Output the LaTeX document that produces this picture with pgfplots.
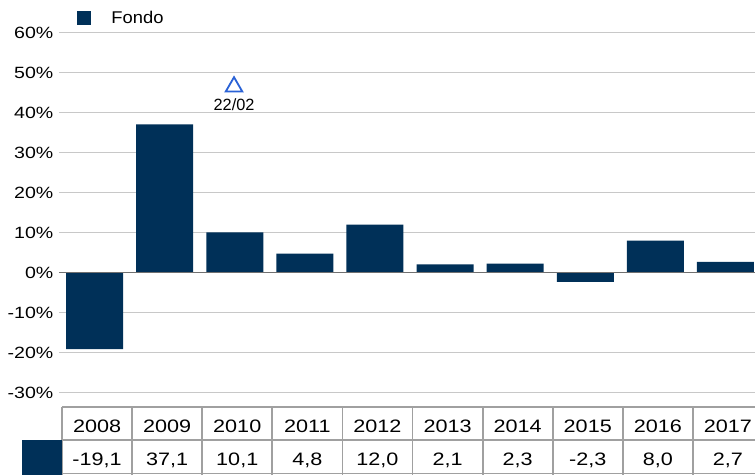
\documentclass[border=0pt]{standalone}
\usepackage{fontspec}
\setmainfont{Liberation Sans}
\newfontfamily\stretchfont[FakeStretch=1.2]{Liberation Sans}
\newfontfamily\legfont[FakeStretch=1.08]{Liberation Sans}
\usepackage{pgfplots}
\pgfplotsset{compat=1.18}
\usepackage{pgfplotstable}
\definecolor{navy}{HTML}{003058}
\definecolor{gridgray}{HTML}{C8C8C8}
\definecolor{zerogray}{HTML}{707070}
\definecolor{tablegray}{HTML}{A0A0A0}
\definecolor{triblue}{HTML}{2A62D6}

\pgfplotstableread{
x year val
0 2008 -19.1
1 2009 37.1
2 2010 10.1
3 2011 4.8
4 2012 12.0
5 2013 2.1
6 2014 2.3
7 2015 -2.3
8 2016 8.0
9 2017 2.7
}\fondo

\begin{document}
\begin{tikzpicture}
\path[use as bounding box, clip] (0,0) rectangle (755pt,474pt);
\begin{axis}[
 at={(62pt,81.3pt)}, anchor=south west, scale only axis,
 width=701pt, height=360pt,
 xmin=-0.5, xmax=9.5, ymin=-30, ymax=60,
 clip=false,
 axis line style={draw=none},
 xtick=\empty,
 ytick={-30,-20,-10,0,10,20,30,40,50,60},
 ymajorgrids, grid style={gridgray, line width=1.2pt},
 major tick length=3pt, tick align=outside,
 ytick style={gridgray, line width=1.2pt},
 yticklabel={\pgfmathprintnumber{\tick}\%},
 /pgf/number format/assume math mode=true,
 yticklabel style={font=\stretchfont\fontsize{16.3}{18}\selectfont, inner sep=0pt, xshift=-5.5pt, text=black},
 legend style={draw=none, fill=none, at={(axis description cs:0.021,1.041)}, anchor=west, inner sep=0pt, font=\legfont\fontsize{17}{19}\selectfont},
 legend image code/.code={\fill[navy] (0pt,-7.25pt) rectangle (14.5pt,7.25pt); \path[draw=none, fill=none] (14.5pt,0pt) -- (32.5pt,0pt);},
]
\addplot[ybar, bar width=57pt, bar shift=-2.5pt, fill=navy, draw=none] table[x=x, y=val]{\fondo};
\addlegendentry{Fondo}

\draw[zerogray, line width=1.5pt] ([xshift=-3pt]axis cs:-0.5,0) -- (axis cs:9.5,0);

\addplot[only marks, mark=triangle, mark size=9.5pt, triblue, line width=1.8pt,
  nodes near coords={22/02},
  every node near coord/.append style={anchor=base, yshift=-23.3pt, text=black, font=\fontsize{16.3}{18}\selectfont}]
  coordinates {(1.954,46.5)};

% data table below the chart
\pgfplotsinvokeforeach{-0.5,0.5,1.5,2.5,3.5,4.5,5.5,6.5,7.5,8.5,9.5}{
  \draw[tablegray, line width=1.8pt] (axis cs:#1,-33.6) -- (axis cs:#1,-50.6);
}
\draw[tablegray, line width=1.8pt] (axis cs:-0.5,-33.6) -- (axis cs:9.5,-33.6);
\draw[tablegray, line width=1.8pt] (axis cs:-0.5,-41.8) -- (axis cs:9.5,-41.8);
\draw[tablegray, line width=1.8pt] (axis cs:-0.5,-50.2) -- (axis cs:9.5,-50.2);
\fill[navy] (axis cs:-1.07,-41.8) rectangle (axis cs:-0.5,-50.6);

\addplot[draw=none, mark=none, point meta=explicit symbolic,
  nodes near coords={\pgfplotspointmeta},
  every node near coord/.append style={anchor=base, text=black, inner sep=0pt, font=\stretchfont\fontsize{18}{20}\selectfont}]
  table[x=x, y expr=-39.9, meta=year]{\fondo};

\addplot[draw=none, mark=none, point meta=explicit,
  nodes near coords={\pgfmathprintnumber[fixed, fixed zerofill, precision=1, use comma]{\pgfplotspointmeta}},
  every node near coord/.append style={anchor=base, text=black, inner sep=0pt, font=\stretchfont\fontsize{18}{20}\selectfont}]
  table[x=x, y expr=-48.25, meta=val]{\fondo};
\end{axis}
\end{tikzpicture}
\end{document}
